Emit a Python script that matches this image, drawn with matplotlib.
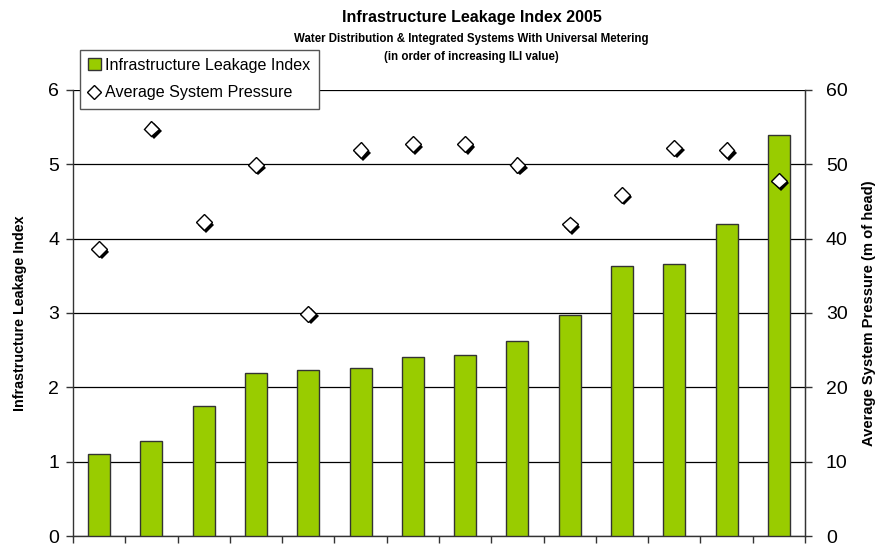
import matplotlib
matplotlib.use("Agg")
import matplotlib.pyplot as plt
import matplotlib.patheffects as pe
import numpy as np

plt.rcParams['font.family'] = ['Liberation Sans', 'DejaVu Sans']

ili = [1.10, 1.28, 1.75, 2.19, 2.23, 2.26, 2.41, 2.44, 2.62, 2.97, 3.63, 3.66, 4.20, 5.40]
pressure = [38.6, 54.8, 42.2, 49.9, 29.9, 51.9, 52.7, 52.7, 49.9, 41.9, 45.9, 52.2, 51.9, 47.8]
left_ticks = [0, 1, 2, 3, 4, 5, 6]
right_ticks = [0, 10, 20, 30, 40, 50, 60]

fig = plt.figure(figsize=(8.75, 5.44), dpi=100)
ax = fig.add_axes([0.0834, 0.0147, 0.8366, 0.82])
n = len(ili)
x = np.arange(n)

bars = ax.bar(x, ili, width=0.42, color='#99CC00', edgecolor='#333333', linewidth=1.0,
              zorder=3, label='Infrastructure Leakage Index')
ax.set_xlim(-0.5, n - 0.5)
ax.set_ylim(0, 6)
ax.set_yticks(left_ticks)
ax.set_yticklabels([str(t) for t in left_ticks], fontsize=14)
ax.set_xticks(np.arange(n + 1) - 0.5)
ax.set_xticklabels([])
ax.tick_params(axis='x', direction='out', length=5, width=1, color='#333333')
ax.tick_params(axis='y', direction='out', length=5, width=1, color='#333333', pad=5)
ax.yaxis.grid(True, color='black', linewidth=0.9, zorder=0)
ax.set_axisbelow(True)
ax.spines['top'].set_visible(False)
for s in ['left', 'bottom', 'right']:
    ax.spines[s].set_color('#333333')
    ax.spines[s].set_linewidth(1.0)
ax.set_ylabel('Infrastructure Leakage Index', fontsize=10.3, fontweight='bold', labelpad=15)

ax2 = ax.twinx()
ax2.set_ylim(0, 60)
ax2.set_yticks(right_ticks)
ax2.set_yticklabels([str(t) for t in right_ticks], fontsize=14)
ax2.tick_params(axis='y', direction='out', length=5, width=1, color='#333333', pad=10)
for s in ['top', 'left', 'bottom']:
    ax2.spines[s].set_visible(False)
ax2.spines['right'].set_color('#333333')
line, = ax2.plot(x, pressure, linestyle='none', marker='D', markersize=8,
                 markerfacecolor='white', markeredgecolor='black', markeredgewidth=1.0,
                 zorder=5, label='Average System Pressure',
                 path_effects=[pe.SimplePatchShadow(offset=(1.8, -1.8), shadow_rgbFace='black', alpha=1.0),
                               pe.Normal()])
ax2.set_ylabel('Average System Pressure (m of head)', fontsize=10.6, fontweight='bold',
               rotation=90, labelpad=10)

leg_line = plt.Line2D([], [], linestyle='none', marker='D', markersize=7,
                      markerfacecolor='white', markeredgecolor='black', markeredgewidth=1.0)
leg = fig.legend([bars, leg_line], ['Infrastructure Leakage Index', 'Average System Pressure'],
                 loc='upper left', bbox_to_anchor=(0.091, 0.909), borderaxespad=0,
                 fontsize=11.6, frameon=True, fancybox=False, edgecolor='#555555', framealpha=1,
                 handlelength=0.8, handletextpad=0.3, borderpad=0.5, labelspacing=0.8)
leg.get_frame().set_linewidth(1.0)

fig.text(0.539, 0.967, 'Infrastructure Leakage Index 2005', ha='center', va='center',
         fontsize=11.5, fontweight='bold')
fig.text(0.539, 0.929, 'Water Distribution & Integrated Systems With Universal Metering',
         ha='center', va='center', fontsize=8.3, fontweight='bold')
fig.text(0.539, 0.895, '(in order of increasing ILI value)', ha='center', va='center',
         fontsize=8.3, fontweight='bold')

fig.savefig('out.png', dpi=100)
